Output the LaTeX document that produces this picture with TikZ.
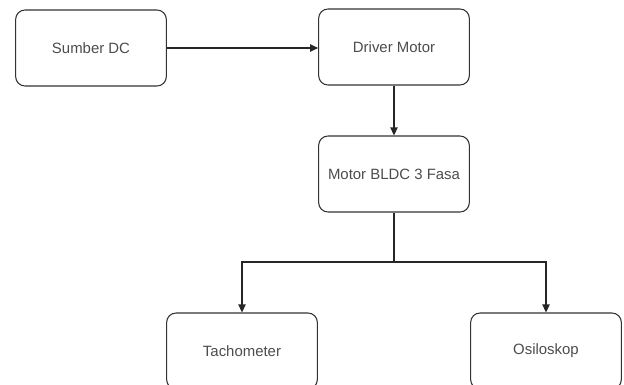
\documentclass[tikz,border=0pt]{standalone}
\usepackage{fontspec}
\setmainfont{Liberation Sans}
\usetikzlibrary{arrows.meta}
\begin{document}
\begin{tikzpicture}[
	x=0.75pt, y=-0.75pt,
	block/.style={ rectangle, rounded corners=7pt, draw=black!80, line width=0.8pt, text=black!70, font=\fontsize{11.2}{13}\selectfont, inner sep=0pt, minimum width=113pt, minimum height=57pt },
	link/.style={ draw=black!85, line width=0.8pt },
	arrow/.style={ link, -{Triangle[length=6pt,width=5.5pt]} }
]

\useasboundingbox (0,0) rectangle (624,385);

\node[block] at (91,48) (sumber) {Sumber DC};
\node[block] at (394,47) (driver) {Driver Motor};
\node[block] at (394,174) (motor) {Motor BLDC 3 Fasa};
\node[block] at (242,351) (tacho) {Tachometer};
\node[block] at (546,351) (osilo) {Osiloskop};
\coordinate (split) at (394,262);

\draw[arrow] (sumber) to (driver.west |- sumber);
\draw[arrow] (driver) to (motor);
\draw[link] (motor) to (split);
\foreach \p in {tacho,osilo} \draw[arrow] (split) -| (\p);

\end{tikzpicture}
\end{document}
